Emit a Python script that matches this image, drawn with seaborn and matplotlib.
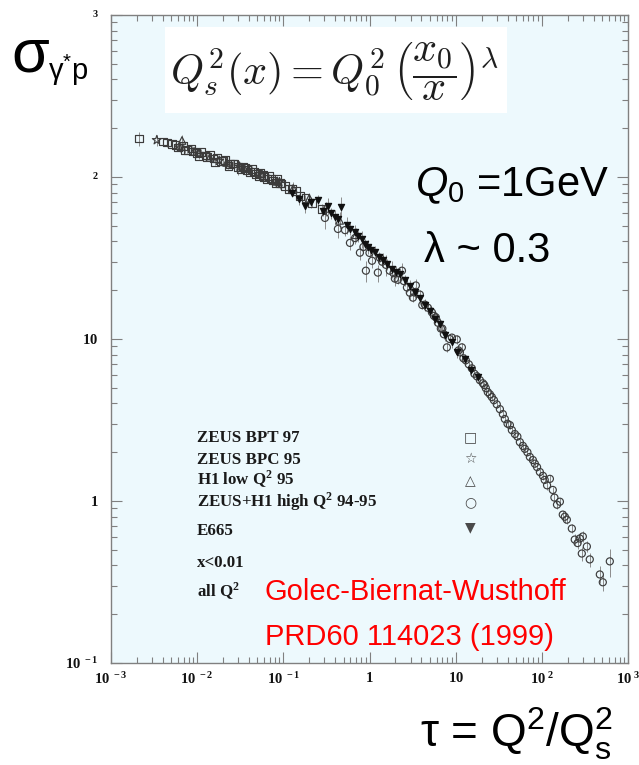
import numpy as np
import pandas as pd
import matplotlib
matplotlib.use("Agg")
import matplotlib.pyplot as plt
import seaborn as sns
from matplotlib.patches import Rectangle
from matplotlib.ticker import FixedLocator, FixedFormatter, LogLocator, NullFormatter

# ---------------- data ----------------
tau_bpt = [0.0021, 0.0045, 0.0051, 0.0060, 0.0068, 0.0077, 0.0086, 0.0098, 0.011, 0.0125,
           0.014, 0.0155, 0.017, 0.019, 0.021, 0.024, 0.027, 0.030, 0.034, 0.038,
           0.043, 0.048, 0.054, 0.060, 0.068, 0.076, 0.085, 0.0914, 0.105, 0.126,
           0.156, 0.215, 0.28,
           0.0040, 0.0056, 0.0072, 0.0090, 0.0105, 0.013, 0.016, 0.020, 0.023, 0.026,
           0.032, 0.036, 0.041, 0.046, 0.052, 0.058, 0.065, 0.072, 0.081, 0.095,
           0.115, 0.14, 0.18]
sig_bpt = [173, 163, 160, 152, 155, 147, 150, 141, 143, 136,
           137, 130, 131, 125, 127, 120, 121, 115, 116, 110,
           112, 104, 106, 100, 101, 95, 97, 91.8, 88, 84.3,
           76.3, 69.1, 63.5,
           166, 157, 146, 144, 134, 133, 124, 126, 117, 121,
           111, 114, 107, 108, 101, 103, 97, 98, 92, 91,
           84, 82, 74]
err_bpt = [0.10, 0.06, 0.04, 0.04, 0.05, 0.04, 0.04, 0.04, 0.04, 0.05,
           0.04, 0.04, 0.05, 0.04, 0.04, 0.05, 0.04, 0.10, 0.04, 0.04,
           0.05, 0.04, 0.04, 0.05, 0.04, 0.04, 0.05, 0.08, 0.05, 0.05,
           0.06, 0.06, 0.08,
           0.04, 0.04, 0.04, 0.04, 0.04, 0.04, 0.04, 0.04, 0.04, 0.04,
           0.04, 0.04, 0.04, 0.04, 0.04, 0.04, 0.04, 0.04, 0.04, 0.04,
           0.05, 0.05, 0.05]

tau_bpc = [0.0034, 0.0063, 0.0105, 0.018, 0.031, 0.052, 0.09]
sig_bpc = [169, 152, 139, 126, 116, 104, 93]
err_bpc = [0.08, 0.06, 0.05, 0.05, 0.05, 0.06, 0.07]

tau_h1 = [0.00667, 0.0092, 0.014, 0.022, 0.035, 0.056, 0.085, 0.13, 0.2, 0.31, 0.45, 0.7]
sig_h1 = [168, 144, 132, 123, 114, 105, 94, 85, 74, 64, 54, 44]
err_h1 = [0.08, 0.05, 0.05, 0.06, 0.06, 0.06, 0.07, 0.10, 0.08, 0.10, 0.12, 0.10]

tau_e665 = [0.126, 0.178, 0.252, 0.329, 0.397, 0.466, 0.547, 0.677, 0.816, 0.958,
            1.16, 1.43, 1.82, 2.25, 2.94, 3.84, 5.02, 6.56, 9.04, 12.8, 18.1,
            0.15, 0.21, 0.29, 0.36, 0.43, 0.6, 0.74, 0.88, 1.05, 1.3,
            1.6, 2.05, 2.6, 3.4, 4.4, 5.7, 7.6, 10.5, 15.0]
sig_e665 = [79.6, 66.2, 72.1, 66.2, 56.7, 65.3, 50.6, 45.9, 41.5, 37.1,
            34.5, 30.9, 27.2, 25.3, 21.1, 17.8, 14.8, 12.3, 9.53, 7.49, 5.81,
            73, 70, 62, 60, 55, 48, 43, 38.5, 35.5, 32,
            29, 26, 23, 19.5, 16.2, 13.3, 10.6, 8.3, 6.4]
err_e665 = [0.06, 0.10, 0.08, 0.12, 0.10, 0.15, 0.12, 0.10, 0.12, 0.10,
            0.08, 0.10, 0.12, 0.08, 0.10, 0.08, 0.08, 0.10, 0.08, 0.08, 0.08,
            0.08, 0.08, 0.08, 0.08, 0.08, 0.08, 0.08, 0.08, 0.08, 0.08,
            0.08, 0.08, 0.08, 0.08, 0.08, 0.08, 0.08, 0.08, 0.08]

tau_high = [0.304, 0.430, 0.593, 0.774, 0.908, 1.25, 1.07, 1.55, 1.97, 2.38,
            2.94, 3.45, 4.39, 5.30, 6.22, 7.30, 7.91, 10.3, 11.2, 13.1,
            15.4, 17.6, 20.7, 23.6, 27.8, 32.6, 37.2, 42.6, 48.7, 55.6,
            63.5, 72.6, 83.0, 94.9, 108, 124, 134, 150, 162, 175,
            195, 223, 241, 276, 299, 291, 333, 360, 471, 510,
            615, 1.32, 1.72, 2.13, 2.72, 3.19, 3.84, 4.76, 5.89, 6.73,
            9.04, 11.8, 14.2, 19.1, 22.4, 26.3, 35.3, 44.9, 60.2, 78.7,
            103,
            0.52, 0.68, 0.85, 1.0, 1.4, 1.9, 2.5, 3.3, 4.1, 5.6,
            7.0, 8.5, 10.8, 12.3, 16.5, 21.5, 25, 30, 40, 52,
            68, 88, 115, 140, 185, 260]
sig_high = [55.9, 47.8, 39.2, 34.1, 26.4, 25.7, 30.4, 28.7, 23.6, 26.4,
            19.3, 21.4, 16.3, 14.6, 12.6, 10.7, 8.88, 9.94, 8.27, 7.39,
            6.59, 5.89, 5.33, 4.70, 4.19, 3.69, 3.21, 2.94, 2.59, 2.31,
            2.10, 1.87, 1.70, 1.51, 1.35, 1.37, 1.17, 0.949, 0.990, 0.824,
            0.767, 0.676, 0.578, 0.587, 0.604, 0.474, 0.524, 0.436, 0.352, 0.315,
            0.424, 31.7, 26.4, 23.2, 20.8, 18.0, 18.8, 15.6, 13.6, 11.6,
            10.2, 8.88, 6.98, 5.57, 4.97, 4.38, 3.44, 2.74, 2.19, 1.79,
            1.43,
            47, 42, 37, 34, 30, 25.5, 22.8, 19.4, 16.2, 13.9,
            11.6, 10.0, 8.5, 7.6, 6.1, 5.2, 4.55, 3.95, 3.0, 2.5,
            2.0, 1.62, 1.25, 1.05, 0.80, 0.55]
err_high = [0.15, 0.12, 0.10, 0.10, 0.15, 0.12, 0.10, 0.15, 0.10, 0.12,
            0.08, 0.10, 0.08, 0.08, 0.06, 0.06, 0.06, 0.06, 0.05, 0.05,
            0.05, 0.05, 0.05, 0.05, 0.05, 0.05, 0.05, 0.05, 0.05, 0.05,
            0.05, 0.05, 0.05, 0.05, 0.05, 0.05, 0.05, 0.06, 0.06, 0.06,
            0.06, 0.06, 0.08, 0.08, 0.08, 0.10, 0.08, 0.10, 0.12, 0.12,
            0.20, 0.06, 0.06, 0.06, 0.06, 0.06, 0.06, 0.06, 0.06, 0.06,
            0.06, 0.06, 0.06, 0.06, 0.06, 0.06, 0.06, 0.06, 0.06, 0.06,
            0.06,
            0.08, 0.08, 0.08, 0.06, 0.06, 0.06, 0.05, 0.05, 0.05, 0.05,
            0.05, 0.05, 0.05, 0.05, 0.05, 0.05, 0.05, 0.05, 0.05, 0.05,
            0.05, 0.06, 0.06, 0.06, 0.08, 0.08]

legend_labels = ["ZEUS BPT 97", "ZEUS BPC 95", r"H1 low Q$^{\mathbf{2}}$ 95",
                 r"ZEUS+H1 high Q$^{\mathbf{2}}$ 94-95", "E665"]
legend_glyphs = ["\u25a1", "\u2606", "\u25b3", "\u25cb", "\u25bc"]
extra_labels = ["x<0.01", r"all Q$^{\mathbf{2}}$"]

xtick_vals = [1e-3, 1e-2, 1e-1, 1, 10, 1e2, 1e3]
xtick_labels = [r"$\mathbf{10^{\ -3}}$", r"$\mathbf{10^{\ -2}}$", r"$\mathbf{10^{\ -1}}$",
                r"$\mathbf{1}$", r"$\mathbf{10}$", r"$\mathbf{10^{\ 2}}$", r"$\mathbf{10^{\ 3}}$"]
ytick_vals = [1e-1, 1, 10, 1e2, 1e3]
ytick_labels = [r"$\mathbf{10^{\ -1}}$", r"$\mathbf{1}$", r"$\mathbf{10}$",
                r"$\mathbf{^{2}}$", r"$\mathbf{^{3}}$"]

# ---------------- style ----------------
sns.set_style("ticks")
plt.rcParams["font.family"] = ["Liberation Sans", "DejaVu Sans"]
plt.rcParams["mathtext.fontset"] = "custom"
plt.rcParams["mathtext.rm"] = "Liberation Sans"
plt.rcParams["mathtext.it"] = "Liberation Sans:italic"
plt.rcParams["mathtext.bf"] = "Liberation Serif:bold"

W, H = 639, 765
fig = plt.figure(figsize=(W / 100, H / 100), dpi=100)
fig.patch.set_facecolor("white")


def fx(x):
    return x / W


def fy(y):
    return 1 - y / H


ax = fig.add_axes([fx(111), fy(663), (628 - 111) / W, (663 - 15) / H])
ax.set_facecolor("#edf9fd")
ax.set_xscale("log")
ax.set_yscale("log")
ax.set_xlim(1e-3, 1e3)
ax.set_ylim(1e-1, 1e3)

edge = "#3c3c3c"
series = [
    (tau_bpt, sig_bpt, err_bpt, "s", 30, "none"),
    (tau_bpc, sig_bpc, err_bpc, "*", 45, "none"),
    (tau_h1, sig_h1, err_h1, "^", 30, "none"),
    (tau_high, sig_high, err_high, "o", 26, "none"),
    (tau_e665, sig_e665, err_e665, "v", 20, "#111111"),
]
for tau, sig, err, mk, sz, fc in series:
    df = pd.DataFrame({"tau": tau, "sigma": sig, "err": err})
    ax.errorbar(df["tau"], df["sigma"], yerr=df["sigma"] * df["err"], fmt="none",
                ecolor="#8c8c8c", elinewidth=0.7, capsize=0, zorder=2)
    sns.scatterplot(data=df, x="tau", y="sigma", marker=mk, s=sz, facecolor=fc,
                    edgecolor=edge if fc == "none" else "#111111", linewidth=0.85,
                    ax=ax, zorder=3, legend=False)

ax.set_xlabel("")
ax.set_ylabel("")
ax.xaxis.set_major_locator(FixedLocator(xtick_vals))
ax.xaxis.set_major_formatter(FixedFormatter(xtick_labels))
ax.yaxis.set_major_locator(FixedLocator(ytick_vals))
ax.yaxis.set_major_formatter(FixedFormatter(ytick_labels))
ax.xaxis.set_minor_locator(LogLocator(base=10, subs=np.arange(2, 10), numticks=100))
ax.yaxis.set_minor_locator(LogLocator(base=10, subs=np.arange(2, 10), numticks=100))
ax.xaxis.set_minor_formatter(NullFormatter())
ax.yaxis.set_minor_formatter(NullFormatter())
ax.tick_params(which="both", direction="in", top=True, right=True, color="#808080", width=0.8)
ax.tick_params(which="major", length=8, labelsize=10.5, labelcolor="#111111")
ax.tick_params(which="minor", length=4)
ax.tick_params(axis="x", which="major", pad=6)
ax.tick_params(axis="y", which="major", pad=9)
for sp in ax.spines.values():
    sp.set_color("#808080")
    sp.set_linewidth(1.0)

# ---------------- annotations ----------------
fig.text(fx(11), fy(71), "\u03c3", fontsize=44, color="black", va="baseline", ha="left")
fig.text(fx(48), fy(80), r"γ$^{*}$p", fontsize=21, color="black", va="baseline", ha="left")

fig.add_artist(Rectangle((fx(165), fy(113)), (507 - 165) / W, (113 - 27) / H,
                         transform=fig.transFigure, facecolor="white", edgecolor="none", zorder=1))
fig.text(fx(170), fy(72), r"$Q_s^2(x) = Q_0^2\,\left(\dfrac{x_0}{x}\right)^{\lambda}$",
         fontsize=30.5, color="#1e1e1e", va="center", ha="left", math_fontfamily="cm", zorder=3)

fig.text(fx(415), fy(196), r"$\mathit{Q_0}$ =1GeV", fontsize=30, color="black",
         va="baseline", ha="left")
fig.text(fx(424), fy(262), "\u03bb ~ 0.3", fontsize=30, color="black", va="baseline", ha="left")

leg_y = [442, 464, 485, 507, 535]
for lab, y in zip(legend_labels, leg_y):
    fig.text(fx(197), fy(y), lab, fontsize=12.2, fontweight="bold", family="Liberation Serif",
             color="#1a1a1a", va="baseline", ha="left")
for lab, y in zip(extra_labels, [567, 597]):
    fig.text(fx(197), fy(y), lab, fontsize=12.2, fontweight="bold", family="Liberation Serif",
             color="#1a1a1a", va="baseline", ha="left")
for g, y in zip(legend_glyphs, [437, 459, 481, 502, 527]):
    fig.text(fx(470), fy(y), g, fontsize=10, family="DejaVu Sans", color="#4a4a4a",
             va="center", ha="center")

fig.text(fx(265), fy(600), "Golec-Biernat-Wusthoff", fontsize=21, color="#ff0000",
         va="baseline", ha="left")
fig.text(fx(265), fy(645), "PRD60 114023 (1999)", fontsize=21, color="#ff0000",
         va="baseline", ha="left")

fig.text(fx(420), fy(748), r"τ = Q$^{2}$/Q$^{2}_{\mathrm{s}}$", fontsize=33, color="black",
         va="baseline", ha="left")

fig.savefig("out.png", dpi=100)
